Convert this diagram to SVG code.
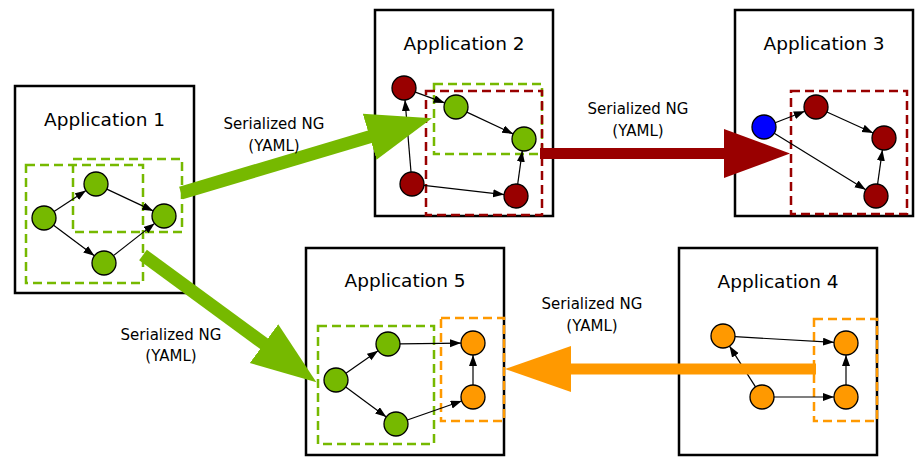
<svg xmlns="http://www.w3.org/2000/svg" width="924" height="463" viewBox="0 0 924 463">
<style>
.app{fill:#fff;stroke:#000;stroke-width:2.5}
.title{font-family:"DejaVu Sans",sans-serif;font-size:18.5px;fill:#000;text-anchor:middle}
.lbl{font-family:"DejaVu Sans",sans-serif;font-size:15px;fill:#000;text-anchor:middle}
.dg{fill:none;stroke:#76B900;stroke-width:2.5;stroke-dasharray:9 5}
.dr{fill:none;stroke:#990000;stroke-width:2.5;stroke-dasharray:9 5}
.do{fill:none;stroke:#FF9900;stroke-width:2.5;stroke-dasharray:9 5}
.g{fill:#76B900;stroke:#000;stroke-width:1.3}
.r{fill:#990000;stroke:#000;stroke-width:1.3}
.o{fill:#FF9900;stroke:#000;stroke-width:1.3}
.b{fill:#0000FF;stroke:#000;stroke-width:1.3}
.e{stroke:#000;stroke-width:1.2;fill:none;marker-end:url(#ah)}
</style>
<defs>
<marker id="ah" markerUnits="userSpaceOnUse" markerWidth="12" markerHeight="10" viewBox="0 0 12 10" refX="11" refY="4" orient="auto"><path d="M0,0 L11,4 L0,8 Z" fill="#000"/></marker>
<marker id="hg" markerUnits="userSpaceOnUse" markerWidth="70" markerHeight="52" viewBox="0 -26 70 52" refX="1" refY="0" orient="auto"><path d="M0,-24 L65,0 L0,24 Z" fill="#76B900"/></marker>
<marker id="hr" markerUnits="userSpaceOnUse" markerWidth="70" markerHeight="52" viewBox="0 -26 70 52" refX="1" refY="0" orient="auto"><path d="M0,-24.5 L66,0 L0,24.5 Z" fill="#990000"/></marker>
<marker id="ho" markerUnits="userSpaceOnUse" markerWidth="70" markerHeight="52" viewBox="0 -26 70 52" refX="1" refY="0" orient="auto"><path d="M0,-23 L66,0 L0,23 Z" fill="#FF9900"/></marker>
</defs>

<g id="app1">
<rect class="app" x="15" y="86" width="179" height="207"/>
<text class="title" x="104.5" y="126">Application 1</text>
<rect class="dg" x="26" y="165" width="117" height="118"/>
<rect class="dg" x="73" y="159" width="109" height="73"/>
<g id="app1-edges">
<line class="e" x1="54" y1="211.4" x2="86" y2="190.6"/>
<line class="e" x1="106.8" y1="189.1" x2="153.2" y2="210.9"/>
<line class="e" x1="53.6" y1="225.2" x2="94.4" y2="255.8"/>
<line class="e" x1="113.4" y1="255.6" x2="154.6" y2="223.4"/>
</g>
<circle id="a1n1" class="g" cx="44" cy="218" r="12"/>
<circle id="a1n2" class="g" cx="96" cy="184" r="12"/>
<circle id="a1n3" class="g" cx="164" cy="216" r="12"/>
<circle id="a1n4" class="g" cx="104" cy="263" r="12"/>
</g>

<g id="app2">
<rect class="app" x="375" y="10" width="178" height="206"/>
<text class="title" x="464" y="50">Application 2</text>
<rect class="dg" x="434" y="84" width="108" height="70"/>
<rect class="dr" x="426" y="91" width="116" height="124"/>
<g id="app2-edges">
<line class="e" x1="415.3" y1="92.1" x2="444.7" y2="102.9"/>
<line class="e" x1="466.8" y1="112.1" x2="513.2" y2="133.9"/>
<line class="e" x1="411" y1="172" x2="405" y2="100"/>
<line class="e" x1="423.9" y1="185.4" x2="504.1" y2="194.6"/>
<line class="e" x1="517.7" y1="184.1" x2="522.3" y2="150.9"/>
</g>
<circle id="a2n1" class="r" cx="404" cy="88" r="12"/>
<circle id="a2n2" class="g" cx="456" cy="107" r="12"/>
<circle id="a2n3" class="g" cx="524" cy="139" r="12"/>
<circle id="a2n4" class="r" cx="412" cy="184" r="12"/>
<circle id="a2n5" class="r" cx="516" cy="196" r="12"/>
</g>

<g id="app3">
<rect class="app" x="735" y="10" width="178" height="206"/>
<text class="title" x="824" y="50">Application 3</text>
<rect class="dr" x="791" y="91" width="116" height="123"/>
<g id="app3-edges">
<line class="e" x1="775.2" y1="122.7" x2="804.8" y2="111.3"/>
<line class="e" x1="826.9" y1="112" x2="873.1" y2="133"/>
<line class="e" x1="774.2" y1="133.3" x2="865.8" y2="189.7"/>
<line class="e" x1="877.6" y1="184.1" x2="882.4" y2="149.9"/>
</g>
<circle id="a3n1" class="b" cx="764" cy="127" r="12"/>
<circle id="a3n2" class="r" cx="816" cy="107" r="12"/>
<circle id="a3n3" class="r" cx="884" cy="138" r="12"/>
<circle id="a3n4" class="r" cx="876" cy="196" r="12"/>
</g>

<g id="app5">
<rect class="app" x="306" y="248" width="198" height="207"/>
<text class="title" x="405" y="287">Application 5</text>
<rect class="dg" x="318" y="326" width="116" height="118"/>
<rect class="do" x="441" y="318" width="63" height="103"/>
<g id="app5-edges">
<line class="e" x1="345.9" y1="373.2" x2="378.1" y2="350.8"/>
<line class="e" x1="345.7" y1="387.1" x2="386.3" y2="416.9"/>
<line class="e" x1="400" y1="343.9" x2="461" y2="343.1"/>
<line class="e" x1="407.3" y1="420" x2="461.7" y2="401"/>
<line class="e" x1="473" y1="385" x2="473" y2="355"/>
</g>
<circle id="a5n1" class="g" cx="336" cy="380" r="12"/>
<circle id="a5n2" class="g" cx="388" cy="344" r="12"/>
<circle id="a5n3" class="g" cx="396" cy="424" r="12"/>
<circle id="a5n4" class="o" cx="473" cy="343" r="12"/>
<circle id="a5n5" class="o" cx="473" cy="397" r="12"/>
</g>

<g id="app4">
<rect class="app" x="679" y="248" width="198" height="207"/>
<text class="title" x="778" y="288">Application 4</text>
<rect class="do" x="814" y="319" width="63" height="102"/>
<g id="app4-edges">
<line class="e" x1="735" y1="336.7" x2="834" y2="342.3"/>
<line class="e" x1="755.5" y1="386.9" x2="729.5" y2="346.1"/>
<line class="e" x1="774" y1="397" x2="834" y2="397"/>
<line class="e" x1="846" y1="385" x2="846" y2="355"/>
</g>
<circle id="a4n1" class="o" cx="723" cy="336" r="12"/>
<circle id="a4n2" class="o" cx="762" cy="397" r="12"/>
<circle id="a4n3" class="o" cx="846" cy="343" r="12"/>
<circle id="a4n4" class="o" cx="846" cy="397" r="12"/>
</g>

<g id="connectors">
<line x1="181" y1="193" x2="370.6" y2="136.5" stroke="#76B900" stroke-width="13" marker-end="url(#hg)"/>
<line x1="143" y1="255" x2="264.8" y2="344.3" stroke="#76B900" stroke-width="13" marker-end="url(#hg)"/>
<line x1="540" y1="153.5" x2="725" y2="153.5" stroke="#990000" stroke-width="11" marker-end="url(#hr)"/>
<line x1="816" y1="369" x2="570" y2="369" stroke="#FF9900" stroke-width="11" marker-end="url(#ho)"/>
</g>

<g id="labels">
<text class="lbl" x="274" y="129">Serialized NG</text>
<text class="lbl" x="274" y="151">(YAML)</text>
<text class="lbl" x="638" y="114">Serialized NG</text>
<text class="lbl" x="638" y="136">(YAML)</text>
<text class="lbl" x="171" y="340">Serialized NG</text>
<text class="lbl" x="171" y="361">(YAML)</text>
<text class="lbl" x="592" y="309">Serialized NG</text>
<text class="lbl" x="592" y="331">(YAML)</text>
</g>
</svg>
